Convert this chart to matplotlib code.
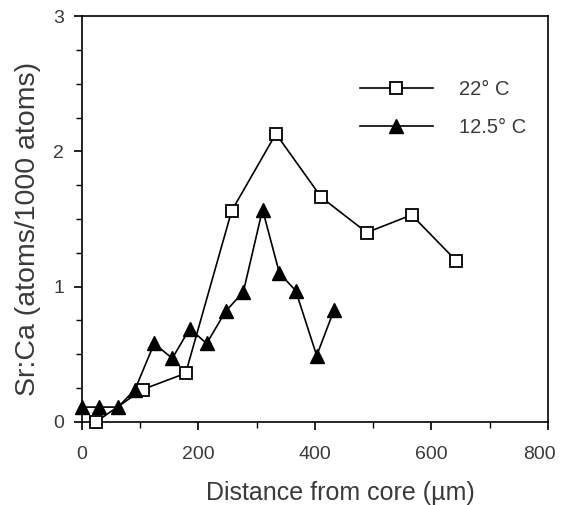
import matplotlib
matplotlib.use("Agg")
import matplotlib.pyplot as plt
import matplotlib.transforms as mtransforms
from matplotlib.ticker import MultipleLocator

plt.rcParams['font.family'] = ['Liberation Sans', 'DejaVu Sans']

# 22 deg C series
x22 = [24, 104, 178, 257, 333, 411, 489, 566, 643]
y22 = [0.00, 0.24, 0.36, 1.56, 2.13, 1.66, 1.40, 1.53, 1.19]

# 12.5 deg C series
x125 = [0, 30, 62, 91, 124, 155, 185, 214, 247, 277, 310, 339, 367, 403, 433]
y125 = [0.11, 0.11, 0.11, 0.24, 0.58, 0.47, 0.69, 0.58, 0.82, 0.96, 1.57, 1.10, 0.97, 0.49, 0.83]

labels = ["22° C", "12.5° C"]
xticks = [0, 200, 400, 600, 800]
yticks = [0, 1, 2, 3]

txt = '#3a3a3a'
fig = plt.figure(figsize=(5.62, 5.05), dpi=100)
ax = fig.add_axes([0.1459, 0.1644, 0.829, 0.8039])

ax.plot(x22, y22, color='black', lw=1.2, marker='s', ms=8, mfc='white',
        mec='black', mew=1.3, label=labels[0], zorder=3, clip_on=False)
ax.plot(x125, y125, color='black', lw=1.2, marker='^', ms=10, mfc='black',
        mec='black', label=labels[1], zorder=3, clip_on=False)

ax.set_xlim(0, 800)
ax.set_ylim(0, 3)
ax.set_xticks(xticks)
ax.set_yticks(yticks)
ax.xaxis.set_minor_locator(MultipleLocator(100))
ax.yaxis.set_minor_locator(MultipleLocator(0.25))
ax.tick_params(axis='both', which='major', direction='out', length=6, width=1.2,
               labelsize=14, labelcolor=txt)
ax.tick_params(axis='x', which='major', pad=11)
ax.tick_params(axis='y', which='major', pad=7)
ax.tick_params(axis='both', which='minor', direction='out', length=4, width=1.0)
for s in ax.spines.values():
    s.set_linewidth(1.2)

# nudge the last x tick label left so it stays inside the figure
fig.canvas.draw()
lab = ax.get_xticklabels()[-1]
lab.set_transform(lab.get_transform() +
                  mtransforms.ScaledTranslation(-8 / 100, 0, fig.dpi_scale_trans))

ax.set_xlabel("Distance from core (µm)", fontsize=18, color=txt)
ax.set_ylabel("Sr:Ca (atoms/1000 atoms)", fontsize=20.5, color=txt)
ax.xaxis.set_label_coords(0.554, -0.146)
ax.yaxis.set_label_coords(-0.088, 0.475)

leg = ax.legend(loc='upper left', bbox_to_anchor=(0.558, 0.887), frameon=False,
                fontsize=14.5, handlelength=3.6, numpoints=1, labelspacing=0.95,
                handletextpad=1.3)
for t in leg.get_texts():
    t.set_color(txt)

fig.savefig("out.png", dpi=100)
